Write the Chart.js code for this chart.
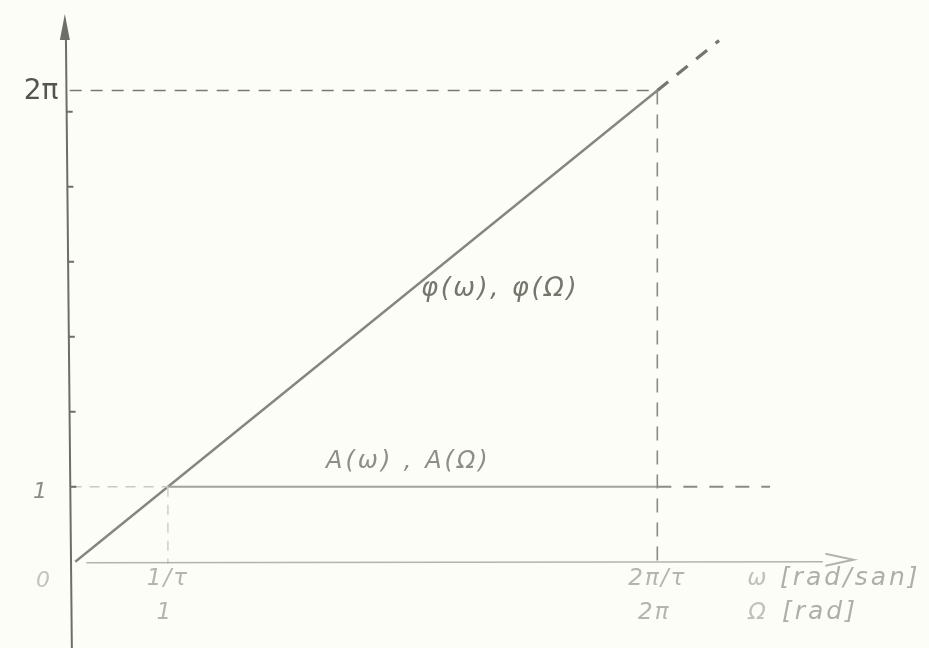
<!DOCTYPE html>
<html>
<head>
<meta charset="utf-8">
<script src="https://cdn.jsdelivr.net/npm/chart.js@4/dist/chart.umd.min.js"></script>
<style>
  html, body { margin: 0; padding: 0; background: #fcfdf6; }
  canvas { display: block; }
</style>
</head>
<body>
<canvas id="plot" width="929" height="648"></canvas>
<script>
var TWO_PI = 2 * Math.PI;

// phase curve phi(w) = w*tau, solid up to 2pi/tau then dashed
var phiX = [0, TWO_PI];
var phiY = [0, TWO_PI];
var phiExtX = [TWO_PI, 6.95];
var phiExtY = [TWO_PI, 6.95];

// amplitude A(w) = 1
var ampLeadX = [-0.04, 1];
var ampLeadY = [1, 1];
var ampX = [1, TWO_PI];
var ampY = [1, 1];
var ampExtX = [TWO_PI, 7.5];
var ampExtY = [1, 1];

// axis ticks and labels
var yTicks = [1, 2, 3, 4, 5, 6];
var yTickValues = [0, 1, TWO_PI];
var yTickLabels = ['0', '1', '2\u03c0'];
var xTickValues = [1, TWO_PI];
var xTickLabelsW = ['1/\u03c4', '2\u03c0/\u03c4'];
var xTickLabelsO = ['1', '2\u03c0'];
var xUnitW = ['\u03c9', '[rad/san]'];
var xUnitO = ['\u03a9', '[rad]'];
var phiLabel = '\u03c6(\u03c9), \u03c6(\u03a9)';
var ampLabel = 'A(\u03c9) , A(\u03a9)';

function pts(xs, ys) {
  var out = [];
  for (var i = 0; i < xs.length; i++) out.push({x: xs[i], y: ys[i]});
  return out;
}

function seg(data, color, width, dash) {
  return {
    data: data,
    showLine: true,
    borderColor: color,
    borderWidth: width,
    borderDash: dash || [],
    pointRadius: 0,
    fill: false
  };
}

function text(c, s, x, y, spacing) {
  c.letterSpacing = (spacing || 0) + 'px';
  c.fillText(s, x, y);
  c.letterSpacing = '0px';
}

var bgPlugin = {
  id: 'bg',
  beforeDraw: function(chart) {
    var c = chart.ctx;
    c.save();
    c.fillStyle = '#fcfdf6';
    c.fillRect(0, 0, chart.width, chart.height);
    c.restore();
  }
};

var axesPlugin = {
  id: 'axes',
  afterDatasetsDraw: function(chart) {
    var c = chart.ctx;
    var xs = chart.scales.x, ys = chart.scales.y;
    var ax = xs.getPixelForValue(-0.08);
    var ay = ys.getPixelForValue(0);
    c.save();

    // vertical axis with arrow (drawn a bit slanted, like by hand)
    c.strokeStyle = '#6e6e68';
    c.lineWidth = 2;
    c.beginPath();
    c.moveTo(ax - 2, 30);
    c.lineTo(ax + 4, chart.height);
    c.stroke();
    c.fillStyle = '#6e6e68';
    c.beginPath();
    c.moveTo(ax - 3, 14);
    c.lineTo(ax - 8, 40);
    c.lineTo(ax + 2, 40);
    c.closePath();
    c.fill();

    // small ticks on the vertical axis
    yTicks.forEach(function(v) {
      var py = ys.getPixelForValue(v);
      var off = (py - 30) / (chart.height - 30) * 6 - 2;
      c.beginPath();
      c.moveTo(ax + off, py);
      c.lineTo(ax + off + 6, py);
      c.stroke();
    });

    // horizontal axis with open arrow
    c.strokeStyle = '#b3b4ac';
    c.lineWidth = 1.5;
    c.beginPath();
    c.moveTo(xs.getPixelForValue(0.12), ay + 1);
    c.lineTo(xs.getPixelForValue(8.07), ay);
    c.stroke();
    var tip = xs.getPixelForValue(8.4);
    c.lineWidth = 2;
    c.beginPath();
    c.moveTo(tip - 28, ay - 8);
    c.lineTo(tip, ay - 2);
    c.lineTo(tip - 28, ay + 4);
    c.stroke();

    // vertical axis labels
    c.textAlign = 'center';
    c.textBaseline = 'middle';
    c.fillStyle = '#55554f';
    c.font = '28px "DejaVu Sans"';
    text(c, yTickLabels[2], 41, ys.getPixelForValue(yTickValues[2]) + 1, 0);
    c.fillStyle = '#8c8c86';
    c.font = 'italic 22px "DejaVu Sans"';
    text(c, yTickLabels[1], 40, ys.getPixelForValue(yTickValues[1]) + 6, 0);
    c.fillStyle = '#c2c3bb';
    text(c, yTickLabels[0], 43, ys.getPixelForValue(yTickValues[0]) + 20, 0);

    // horizontal axis labels, two rows
    c.font = 'italic 23px "DejaVu Sans"';
    c.fillStyle = '#b4b5ad';
    for (var i = 0; i < xTickValues.length; i++) {
      var px = xs.getPixelForValue(xTickValues[i]);
      text(c, xTickLabelsW[i], px, ay + 17, 2);
      text(c, xTickLabelsO[i], px - 3, ay + 51, 2);
    }
    c.fillStyle = '#c0c1b9';
    text(c, xUnitW[0], 757, ay + 17, 0);
    text(c, xUnitO[0], 757, ay + 51, 0);
    c.textAlign = 'left';
    c.fillStyle = '#aeafa7';
    c.font = 'italic 25px "DejaVu Sans"';
    text(c, xUnitW[1], 780, ay + 17, 3);
    text(c, xUnitO[1], 782, ay + 51, 3);

    // curve labels
    c.fillStyle = '#76766f';
    c.font = 'italic 26px "DejaVu Sans"';
    text(c, phiLabel, 421, 289, 2.5);
    c.fillStyle = '#8e8e87';
    c.font = 'italic 24px "DejaVu Sans"';
    text(c, ampLabel, 326, 462, 3);

    c.restore();
  }
};

new Chart(document.getElementById('plot'), {
  type: 'scatter',
  data: {
    datasets: [
      // guide lines to the marked points
      seg([{x: -0.06, y: TWO_PI}, {x: TWO_PI, y: TWO_PI}], '#7a7a74', 1.6, [12, 9]),
      seg([{x: 1, y: 1}, {x: 1, y: -0.03}], '#cfd0c8', 1.5, [10, 8]),
      seg([{x: TWO_PI, y: TWO_PI}, {x: TWO_PI, y: 0}], '#8a8a84', 1.6, [14, 10]),
      // amplitude
      seg(pts(ampLeadX, ampLeadY), '#c9cac2', 1.6, [10, 8]),
      seg(pts(ampX, ampY), '#a2a39b', 2),
      seg(pts(ampExtX, ampExtY), '#8c8c86', 2, [14, 12]),
      // phase
      seg(pts(phiX, phiY), '#86867f', 2.4),
      seg(pts(phiExtX, phiExtY), '#76766f', 3.2, [14, 11])
    ]
  },
  options: {
    responsive: false,
    animation: false,
    layout: { padding: { left: 66, right: 20, top: 3, bottom: 0 } },
    scales: {
      x: { type: 'linear', min: -0.1, max: 9.0, display: false },
      y: { type: 'linear', min: -1.15, max: 7.45, display: false }
    },
    plugins: {
      legend: { display: false },
      tooltip: { enabled: false }
    }
  },
  plugins: [bgPlugin, axesPlugin]
});
</script>
</body>
</html>
